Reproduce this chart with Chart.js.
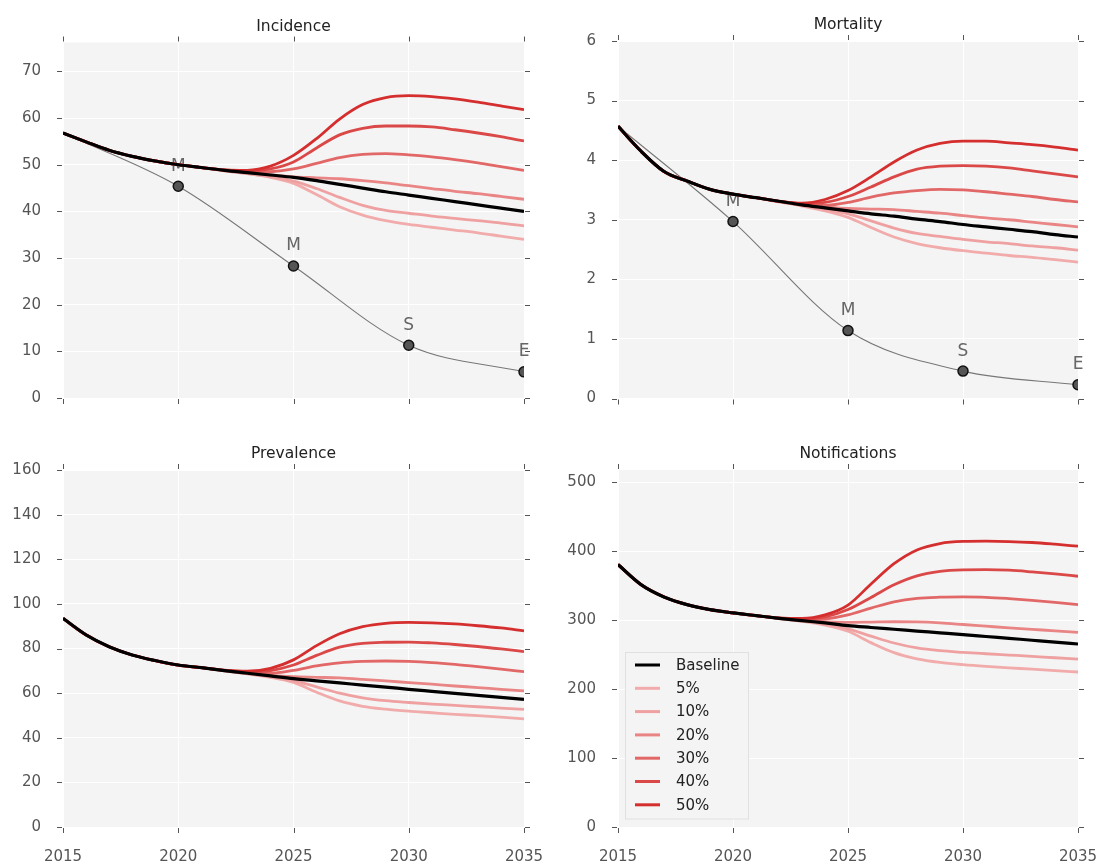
<!DOCTYPE html>
<html>
<head>
<meta charset="utf-8">
<script src="https://cdn.jsdelivr.net/npm/chart.js@4.4.1/dist/chart.umd.min.js"></script>
<style>
html,body{margin:0;padding:0;background:#ffffff;}
#wrap{position:relative;width:1099px;height:866px;overflow:hidden;}
canvas{position:absolute;}
</style>
</head>
<body>
<div id="wrap">
<canvas id="c0" width="550" height="433" style="left:0px;top:0px"></canvas>
<canvas id="c1" width="549" height="433" style="left:550px;top:0px"></canvas>
<canvas id="c2" width="550" height="433" style="left:0px;top:433px"></canvas>
<canvas id="c3" width="549" height="433" style="left:550px;top:433px"></canvas>
</div>
<script>
// ---------------- DATA ----------------
const years = [2015,2016,2017,2018,2019,2020,2021,2022,2023,2024,2025,2026,2027,2028,2029,2030,2031,2032,2033,2034,2035];
const xTicks = [2015,2020,2025,2030,2035];
const scenarioLabels = ['Baseline','5%','10%','20%','30%','40%','50%'];
const panelTitles = ['Incidence','Mortality','Prevalence','Notifications'];
const targetYears = [2015,2020,2025,2030,2035];
const targetLabels = ['','M','M','S','E'];

const incidenceTicks = [0,10,20,30,40,50,60,70];
const mortalityTicks = [0,1,2,3,4,5,6];
const prevalenceTicks = [0,20,40,60,80,100,120,140,160];
const notificationTicks = [0,100,200,300,400,500];

const incidenceBaseline = [56.8,54.9,53.1,51.8,50.8,50.0,49.4,48.8,48.3,47.8,47.3,46.6,45.8,45.0,44.2,43.5,42.8,42.1,41.4,40.7,40.0];
const incidence5  = [56.8,54.9,53.1,51.8,50.8,50.0,49.4,48.7,48.1,47.3,46.0,43.6,41.0,39.2,38.0,37.2,36.6,36.0,35.4,34.7,34.0];
const incidence10 = [56.8,54.9,53.1,51.8,50.8,50.0,49.4,48.7,48.1,47.4,46.5,44.9,43.0,41.3,40.2,39.6,39.0,38.5,38.0,37.5,36.9];
const incidence20 = [56.8,54.9,53.1,51.8,50.8,50.0,49.4,48.8,48.3,47.8,47.4,47.2,47.0,46.6,46.1,45.5,44.9,44.3,43.8,43.2,42.6];
const incidence30 = [56.8,54.9,53.1,51.8,50.8,50.0,49.4,48.8,48.4,48.5,49.1,50.3,51.5,52.2,52.4,52.1,51.7,51.1,50.4,49.6,48.8];
const incidence40 = [56.8,54.9,53.1,51.8,50.8,50.0,49.4,48.9,48.6,49.1,50.6,53.6,56.4,57.8,58.3,58.3,58.1,57.5,56.8,56.0,55.1];
const incidence50 = [56.8,54.9,53.1,51.8,50.8,50.0,49.4,48.9,48.8,49.7,52.0,55.6,59.8,62.9,64.4,64.8,64.6,64.1,63.4,62.6,61.8];
const incidenceTarget = [56.8,45.4,28.3,11.3,5.6];

const mortalityBaseline = [4.57,4.15,3.81,3.65,3.51,3.43,3.37,3.31,3.25,3.20,3.15,3.10,3.06,3.01,2.97,2.92,2.88,2.84,2.80,2.75,2.71];
const mortality5  = [4.57,4.15,3.81,3.65,3.51,3.43,3.37,3.30,3.23,3.15,3.04,2.87,2.71,2.60,2.53,2.48,2.44,2.40,2.37,2.33,2.29];
const mortality10 = [4.57,4.15,3.81,3.65,3.51,3.43,3.37,3.30,3.24,3.17,3.10,2.98,2.86,2.77,2.72,2.67,2.63,2.60,2.56,2.53,2.49];
const mortality20 = [4.57,4.15,3.81,3.65,3.51,3.43,3.37,3.31,3.25,3.21,3.19,3.18,3.17,3.14,3.11,3.07,3.03,3.00,2.96,2.92,2.88];
const mortality30 = [4.57,4.15,3.81,3.65,3.51,3.43,3.37,3.31,3.26,3.24,3.29,3.38,3.45,3.49,3.51,3.50,3.47,3.43,3.39,3.34,3.30];
const mortality40 = [4.57,4.15,3.81,3.65,3.51,3.43,3.37,3.31,3.27,3.29,3.39,3.55,3.72,3.85,3.90,3.91,3.90,3.87,3.82,3.77,3.72];
const mortality50 = [4.57,4.15,3.81,3.65,3.51,3.43,3.37,3.31,3.28,3.34,3.49,3.72,3.97,4.17,4.28,4.32,4.32,4.29,4.26,4.22,4.17];
const mortalityTarget = [4.57,2.97,1.14,0.46,0.23];

const prevalenceBaseline = [93.5,86.1,80.8,77.1,74.6,72.6,71.4,70.1,68.9,67.7,66.5,65.5,64.6,63.6,62.7,61.7,60.8,59.9,59.0,58.1,57.2];
const prevalence5  = [93.5,86.1,80.8,77.1,74.6,72.6,71.4,70.0,68.6,67.1,64.8,60.4,56.5,54.1,52.8,51.9,51.2,50.5,49.9,49.2,48.5];
const prevalence10 = [93.5,86.1,80.8,77.1,74.6,72.6,71.4,70.0,68.7,67.3,65.6,62.8,60.0,57.9,56.6,55.8,55.1,54.5,53.9,53.3,52.7];
const prevalence20 = [93.5,86.1,80.8,77.1,74.6,72.6,71.4,70.1,68.9,68.0,67.4,67.1,66.8,66.2,65.5,64.7,64.0,63.2,62.5,61.7,61.0];
const prevalence30 = [93.5,86.1,80.8,77.1,74.6,72.6,71.4,70.2,69.2,68.9,70.2,72.2,73.6,74.2,74.4,74.2,73.7,72.9,71.9,70.8,69.6];
const prevalence40 = [93.5,86.1,80.8,77.1,74.6,72.6,71.4,70.2,69.5,70.1,72.6,76.9,80.6,82.3,82.8,82.9,82.5,81.8,80.9,79.8,78.6];
const prevalence50 = [93.5,86.1,80.8,77.1,74.6,72.6,71.4,70.3,69.8,71.1,74.9,81.3,86.6,89.8,91.3,91.7,91.5,91.0,90.2,89.2,87.9];

const notificationBaseline = [380.8,351.7,333.8,322.7,315.4,310.6,306.7,302.8,299.4,296.1,292.2,289.5,286.9,284.3,281.7,279.1,276.4,273.7,271.0,268.3,265.5];
const notification5  = [380.8,351.7,333.8,322.7,315.4,310.6,306.7,302.5,298.5,293.0,284.0,267.5,253.0,244.0,238.8,235.5,233.0,231.0,229.0,227.0,224.9];
const notification10 = [380.8,351.7,333.8,322.7,315.4,310.6,306.7,302.6,299.0,294.2,287.5,277.0,267.0,259.8,255.8,253.4,251.4,249.5,247.6,245.6,243.7];
const notification20 = [380.8,351.7,333.8,322.7,315.4,310.6,306.7,302.8,299.6,297.6,297.0,297.4,297.8,297.5,296.1,293.8,291.4,289.0,286.8,284.7,282.4];
const notification30 = [380.8,351.7,333.8,322.7,315.4,310.6,306.7,303.0,300.5,301.8,307.8,317.6,326.8,331.8,333.4,333.8,333.3,331.4,328.9,326.0,322.7];
const notification40 = [380.8,351.7,333.8,322.7,315.4,310.6,306.7,303.1,301.5,304.8,315.5,333.0,351.5,364.5,371.0,373.1,373.4,372.6,370.2,367.3,363.8];
const notification50 = [380.8,351.7,333.8,322.7,315.4,310.6,306.7,303.3,302.5,307.8,322.0,352.5,382.0,402.0,411.3,414.3,414.7,414.2,412.8,410.3,407.4];

// ---------------- STYLE ----------------
const FONT = '"DejaVu Sans", "Liberation Sans", sans-serif';
const seriesColors = ['#000000','#f2abab','#efa1a1','#e98585','#e26767','#db4848','#d52e2e'];
const PLOT_BG = '#f4f4f4';

const panelPlugin = {
  id: 'panel',
  beforeDraw(chart) {
    const {ctx, chartArea: a} = chart;
    ctx.save();
    ctx.fillStyle = PLOT_BG;
    ctx.fillRect(a.left, a.top, a.right - a.left, a.bottom - a.top);
    ctx.restore();
  },
  beforeDatasetsDraw(chart) {
    const {ctx} = chart;
    const idx = chart.data.datasets.findIndex(d => d.milestones);
    if (idx < 0) return;
    const meta = chart.getDatasetMeta(idx);
    const labs = chart.data.datasets[idx].milestones;
    ctx.save();
    ctx.fillStyle = '#666666';
    ctx.font = '17px ' + FONT;
    ctx.textAlign = 'center';
    ctx.textBaseline = 'middle';
    meta.data.forEach((pt, i) => { if (labs[i]) ctx.fillText(labs[i], pt.x, pt.y - 20); });
    ctx.restore();
  },
  afterDraw(chart, args, opts) {
    const {ctx, chartArea: a, scales: {x, y}} = chart;
    ctx.save();
    ctx.strokeStyle = '#555555';
    ctx.lineWidth = 1;
    ctx.beginPath();
    x.ticks.forEach(t => {
      const px = Math.round(x.getPixelForValue(t.value)) + 0.5;
      ctx.moveTo(px, a.top - 6); ctx.lineTo(px, a.top - 1);
      ctx.moveTo(px, a.bottom + 1); ctx.lineTo(px, a.bottom + 6);
    });
    y.ticks.forEach(t => {
      const py = Math.round(y.getPixelForValue(t.value)) + 0.5;
      ctx.moveTo(a.left - 6, py); ctx.lineTo(a.left - 1, py);
      ctx.moveTo(a.right + 1, py); ctx.lineTo(a.right + 6, py);
    });
    ctx.stroke();
    // title
    ctx.fillStyle = '#222222';
    ctx.font = '15.5px ' + FONT;
    ctx.textAlign = 'center';
    ctx.textBaseline = 'alphabetic';
    ctx.fillText(opts.title, (a.left + a.right) / 2, a.top - 12);
    // legend
    if (opts.legend) {
      const items = chart.data.datasets.filter(d => !d.milestones);
      const lx = a.left + 7, rowH = 23.3;
      const h = 166.5, w = 123;
      const ly = a.bottom - 9 - h;
      ctx.fillStyle = PLOT_BG;
      ctx.fillRect(lx, ly, w, h);
      ctx.strokeStyle = '#e0e0e0';
      ctx.lineWidth = 1;
      ctx.strokeRect(Math.round(lx) + 0.5, Math.round(ly) + 0.5, w, h);
      ctx.font = '15px ' + FONT;
      ctx.textAlign = 'left';
      ctx.textBaseline = 'middle';
      items.forEach((d, i) => {
        const cy = ly + 13.5 + i * rowH;
        ctx.strokeStyle = d.borderColor;
        ctx.lineWidth = 3;
        ctx.beginPath(); ctx.moveTo(lx + 10, cy); ctx.lineTo(lx + 35, cy); ctx.stroke();
        ctx.fillStyle = '#222222';
        ctx.fillText(d.label, lx + 51, cy + 1);
      });
    }
    ctx.restore();
  }
};

function buildDatasets(series, target) {
  const ds = series.map((vals, i) => ({
    label: scenarioLabels[i],
    data: years.map((yr, j) => ({x: yr, y: vals[j]})),
    borderColor: seriesColors[i],
    backgroundColor: seriesColors[i],
    borderWidth: i === 0 ? 3.2 : 2.8,
    pointRadius: 0,
    cubicInterpolationMode: 'monotone',
    fill: false,
    order: i === 0 ? 0 : 8 - i
  }));
  if (target) {
    ds.push({
      label: 'Target',
      milestones: targetLabels,
      data: targetYears.map((yr, j) => ({x: yr, y: target[j]})),
      borderColor: '#777777',
      borderWidth: 1.1,
      pointRadius: targetLabels.map(l => l ? 5 : 0),
      pointBackgroundColor: '#555555',
      pointBorderColor: '#111111',
      pointBorderWidth: 1.5,
      cubicInterpolationMode: 'monotone',
      fill: false,
      clip: 0,
      order: 20
    });
  }
  return ds;
}

function makePanel(id, cfg) {
  const canvas = document.getElementById(id);
  const W = canvas.width, H = canvas.height;
  const A = cfg.area;
  const tickFont = {family: FONT, size: 15};
  new Chart(canvas, {
    type: 'line',
    data: {datasets: buildDatasets(cfg.series, cfg.target)},
    plugins: [panelPlugin],
    options: {
      responsive: false,
      animation: false,
      devicePixelRatio: 1,
      events: [],
      layout: {padding: {left: 0, top: A.top, right: W - A.right, bottom: 0}},
      plugins: {
        legend: {display: false},
        tooltip: {enabled: false},
        title: {display: false},
        panel: {title: cfg.title, legend: !!cfg.legend}
      },
      scales: {
        x: {
          type: 'linear', min: 2015, max: 2035,
          afterBuildTicks: s => { s.ticks = xTicks.map(v => ({value: v})); },
          afterFit: s => { s.height = H - A.bottom; s.paddingLeft = 0; s.paddingRight = 0; },
          grid: {color: '#ffffff', lineWidth: 1, drawTicks: false},
          border: {display: false},
          ticks: {display: cfg.showX, padding: 21, color: '#555555', font: tickFont,
                  maxRotation: 0, autoSkip: false, callback: v => String(v)}
        },
        y: {
          type: 'linear', min: 0, max: cfg.yMax,
          afterBuildTicks: s => { s.ticks = cfg.yTicks.map(v => ({value: v})); },
          afterFit: s => { s.width = A.left; s.paddingTop = 0; s.paddingBottom = 0; },
          grid: {color: '#ffffff', lineWidth: 1, drawTicks: false},
          border: {display: false},
          ticks: {padding: 22, color: '#555555', font: tickFont, autoSkip: false,
                  callback: v => String(v)}
        }
      }
    }
  });
}

makePanel('c0', {
  title: panelTitles[0], yMax: 76.2, yTicks: incidenceTicks, showX: false,
  area: {left: 63, top: 42.5, right: 524, bottom: 398},
  series: [incidenceBaseline, incidence5, incidence10, incidence20, incidence30, incidence40, incidence50],
  target: incidenceTarget
});
makePanel('c1', {
  title: panelTitles[1], yMax: 6, yTicks: mortalityTicks, showX: false,
  area: {left: 68, top: 41, right: 528, bottom: 398.5},
  series: [mortalityBaseline, mortality5, mortality10, mortality20, mortality30, mortality40, mortality50],
  target: mortalityTarget
});
makePanel('c2', {
  title: panelTitles[2], yMax: 160, yTicks: prevalenceTicks, showX: true,
  area: {left: 63, top: 37, right: 524, bottom: 394},
  series: [prevalenceBaseline, prevalence5, prevalence10, prevalence20, prevalence30, prevalence40, prevalence50]
});
makePanel('c3', {
  title: panelTitles[3], yMax: 518, yTicks: notificationTicks, showX: true, legend: true,
  area: {left: 68, top: 37, right: 528, bottom: 394},
  series: [notificationBaseline, notification5, notification10, notification20, notification30, notification40, notification50]
});
</script>
</body>
</html>
